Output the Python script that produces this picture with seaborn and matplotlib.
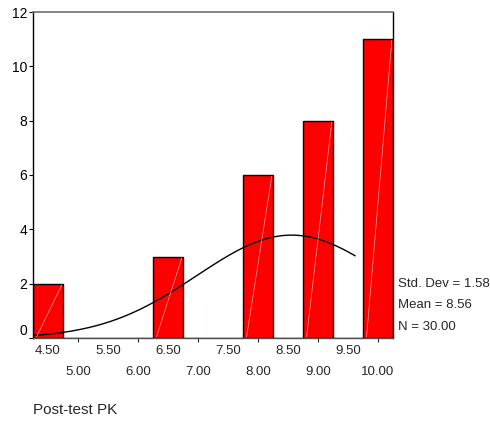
import numpy as np
import pandas as pd
import matplotlib
matplotlib.use("Agg")
import matplotlib.pyplot as plt
import seaborn as sns

# data
bin_centers = [4.5, 6.5, 8.0, 9.0, 10.0]
counts = [2, 3, 6, 8, 11]
upper_labels = ["4.50", "5.50", "6.50", "7.50", "8.50", "9.50"]
lower_labels = ["5.00", "6.00", "7.00", "8.00", "9.00", "10.00"]
stats_text = ["Std. Dev = 1.58", "Mean = 8.56", "N = 30.00"]
mean_val = 8.56
sd_val = 1.58
n_val = 30
bin_width = 0.5
x_title = "Post-test PK"

sns.set_style("white")
plt.rcParams['font.family'] = ['Liberation Sans', 'DejaVu Sans']

fig = plt.figure(figsize=(4.9, 4.21), dpi=100)
ax = fig.add_axes([33/490, 1-338/421, 360/490, 326/421])

df = pd.DataFrame({"x": bin_centers, "w": counts})
sns.histplot(data=df, x="x", weights="w", binwidth=bin_width, binrange=(4.25, 10.25), ax=ax,
             color="#ff0000", alpha=1, edgecolor="black", linewidth=1.0)

# faint diagonal streak inside each bar (derived from bar geometry)
for p in list(ax.patches):
    if p.get_height() > 0:
        x0 = p.get_x(); w = p.get_width(); h = p.get_height()
        ax.plot([x0 + 0.06, x0 + w - 0.02], [0.05, h - 0.05],
                color="#ffa0a0", lw=0.5, zorder=3)

# normal curve
xs = np.linspace(4.25, 9.62, 200)
ys = n_val * bin_width / (sd_val * np.sqrt(2 * np.pi)) * np.exp(-0.5 * ((xs - mean_val) / sd_val) ** 2)
sns.lineplot(x=xs, y=ys, ax=ax, color="black", lw=1.0)

ax.set_xlim(4.25, 10.25)
ax.set_ylim(0, 12)
ax.set_yticks([0, 2, 4, 6, 8, 10, 12])
ax.set_yticklabels(["0", "2", "4", "6", "8", "10", "12"])
ax.tick_params(axis="y", left=True, length=3, width=0.8, pad=1, labelsize=10, colors="black")
ylabs = ax.get_yticklabels()
ylabs[0].set_va("bottom")

major = [5.0, 6.0, 7.0, 8.0, 9.0, 10.0]
minor = [4.5, 5.5, 6.5, 7.5, 8.5, 9.5]
ax.set_xticks(major)
ax.set_xticklabels(lower_labels)
ax.set_xticks(minor, minor=True)
ax.set_xticklabels(upper_labels, minor=True)
ax.tick_params(axis="x", which="major", bottom=True, length=3, width=0.8, pad=17, labelsize=9.5)
ax.tick_params(axis="x", which="minor", bottom=True, length=0, pad=5, labelsize=9.5)
ax.set_xlabel("")
ax.set_ylabel("")

for s in ["left", "right"]:
    ax.spines[s].set_color("black")
    ax.spines[s].set_linewidth(1.0)
ax.spines["top"].set_color("#707070")
ax.spines["top"].set_linewidth(1.2)
ax.spines["bottom"].set_color("#505050")
ax.spines["bottom"].set_linewidth(1.0)
for s in ax.spines.values():
    s.set_visible(True)

for i, t in enumerate(stats_text):
    fig.text(398/490, 1 - (284 + 21.5*i)/421, t, fontsize=9.5, va="center", ha="left")

fig.text(33/490, 1 - 410/421, x_title, fontsize=11, va="center", ha="left")

fig.savefig("out.png", dpi=100)
